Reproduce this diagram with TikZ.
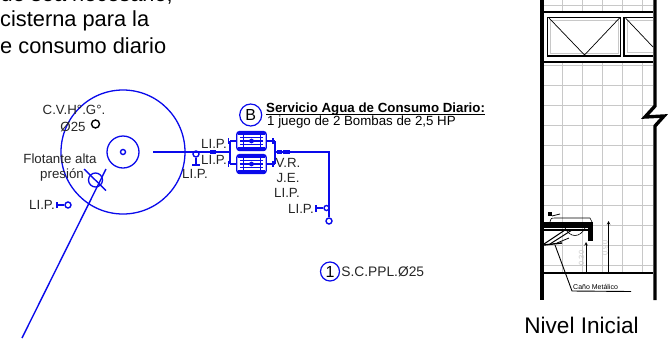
\documentclass[tikz,border=0pt]{standalone}
\usepackage{fontspec}
\setmainfont{Liberation Sans}
\usetikzlibrary{positioning}
\definecolor{azul}{RGB}{10,10,235}
\definecolor{grilla}{RGB}{200,200,200}
\tikzset{
    tanque/.style={circle, draw=azul, line width=1.3pt, inner sep=0pt},
    llave/.style={circle, draw=azul, line width=1.4pt, inner sep=0pt, minimum size=6pt},
    caneria/.style={draw=azul, line width=1.4pt},
    bomba/.style={rectangle, rounded corners=3pt, draw=azul, line width=1.4pt, minimum width=29.5pt, minimum height=19pt, inner sep=0pt},
    etiqueta/.style={inner sep=0pt, font=\fontsize{13.3}{14}\selectfont, text=black!85},
    referencia/.style={circle, draw=azul, line width=1.2pt, inner sep=0pt},
    muro/.style={line width=3.4pt, black},
    marco/.style={line width=1.2pt, black},
    parrafo/.style={inner sep=0pt, font=\fontsize{21.8}{24}\selectfont},
}
\begin{document}
\begin{tikzpicture}[x=1pt, y=-1pt]
\clip (0,0) rectangle (668,338);
%Texto superior
\node[parrafo, anchor=base east] (texto1) at (173,1.5) {ue sea necesario,};
\node[parrafo, anchor=base west] (texto2) at (0,26.7) {cisterna para la};
\node[parrafo, anchor=base west] (texto3) at (0,53) {e consumo diario};

%Cisterna
\node[tanque, minimum size=124pt] (cisterna) at (123,152) {};
\node[tanque, minimum size=32pt] (boca) at (123,152) {};
\node[llave, minimum size=5pt] (centro) at (123,152) {};
\node[llave, minimum size=8pt, draw=black] (cvhg) at (95.5,124) {};
\node[tanque, minimum size=14pt] (flotante) at (95.5,180) {};
\coordinate (flotantea) at (84,169);
\coordinate (flotanteb) at (106,190.5);
\coordinate (flotantec) at (106,169);
\coordinate (flotanted) at (22,338);
\draw[caneria] (flotantea) -- (flotanteb);
\draw[caneria] (flotantec) -- (flotanted);
\node[etiqueta] (cvhgtxt) at (74,110) {C.V.H°.G°.};
\node[etiqueta] (diamtxt) at (73,127) {Ø25};
\node[etiqueta] (flotantetxt) at (60,159) {Flotante alta};
\node[etiqueta] (presiontxt) at (62,175) {presión};
\node[etiqueta] (lip1) at (42,205) {LI.P.};
\node[llave] (lip1v) at (68,205) {};
\coordinate (lip1b) at (57,205);
\draw[caneria] (lip1b) -- (lip1v);
\draw[caneria] ([yshift=-3pt]lip1b) -- ([yshift=3pt]lip1b);

%Impulsion
\coordinate (sale) at (153,152);
\coordinate (tee) at (230,152);
\node[llave] (valv) at (196,154) {};
\coordinate (valvb) at (196,165);
\draw[caneria] (sale) -- (tee);
\draw[caneria] (valv) -- (valvb);
\draw[caneria, line width=1.6pt] (192,165) -- (200,165);
\node[fill=azul, inner sep=0pt, minimum width=6pt, minimum height=3.5pt] (union) at (213,152) {};
\node[etiqueta] (lip2) at (195,174) {LI.P.};
\node[etiqueta] (lip3) at (214,144) {LI.P.};
\node[etiqueta] (lip4) at (214,160) {LI.P.};

%Bombas
\foreach \nombre/\yy in {bomba1/141, bomba2/164}{
    \node[bomba] (\nombre) at (251.5,\yy) {};
    \fill[azul] (238,\yy-9.5) rectangle (265,\yy-6);
    \fill[azul] (238,\yy+6) rectangle (265,\yy+9.5);
    \draw[azul, line width=0.6pt] (240,\yy-3.5) -- (263,\yy-3.5) (240,\yy+3.5) -- (263,\yy+3.5);
    \draw[azul, line width=0.9pt] (243,\yy-6) -- (243,\yy+6) (260,\yy-6) -- (260,\yy+6);
    \fill[azul] (240,\yy-0.6) rectangle (263,\yy+0.6);
    \fill[azul] (251.5,\yy) circle (2.4pt);
    \draw[caneria] (230,\yy) -- (236,\yy);
    \draw[caneria] (267,\yy) -- (275,\yy);
    \fill[azul] (227.5,\yy-3) rectangle (229,\yy+3);
    \fill[azul] (272,\yy-3) rectangle (273.5,\yy+3);
}
\draw[caneria] (230,141) -- (230,164);
\draw[caneria] (275,141) -- (275,164);
\coordinate (colector) at (275,152);
\coordinate (codo) at (329,152);
\node[llave] (fin) at (329,221) {};
\node[llave, minimum size=5pt] (lip5v) at (326.5,208) {};
\coordinate (lip5b) at (316,208);
\draw[caneria] (colector) -- (codo) -- (fin);
\draw[caneria] (lip5b) -- (lip5v);
\draw[caneria, line width=1.7pt] ([yshift=-3.5pt]lip5b) -- ([yshift=3.5pt]lip5b);
\fill[azul] (277,149.5) rectangle (281.5,154);
\fill[azul] (283,149.5) rectangle (289.5,154);
\node[etiqueta] (vr) at (288,163) {V.R.};
\node[etiqueta] (je) at (288,178) {J.E.};
\node[etiqueta] (lip6) at (287,193) {LI.P.};
\node[etiqueta] (lip7) at (301,209) {LI.P.};

%Referencias
\node[referencia, minimum size=22pt, font=\fontsize{16}{16}\selectfont] (refb) at (250.7,115) {B};
\node[inner sep=0pt, anchor=base west, font=\bfseries\fontsize{13.3}{14}\selectfont] (servicio) at (266,112) {Servicio Agua de Consumo Diario:};
\coordinate (raya) at (266,114.5);
\draw[line width=0.7pt] (raya) -- ++(219,0);
\node[inner sep=0pt, anchor=base west, font=\fontsize{13.3}{14}\selectfont] (juego) at (267,125) {1 juego de 2 Bombas de 2,5 HP};
\node[referencia, minimum size=19pt, font=\fontsize{16}{16}\selectfont] (ref1) at (330,271.5) {1};
\node[etiqueta, anchor=west, font=\fontsize{13.8}{14}\selectfont] (scppl) [right=1pt of ref1] {S.C.PPL.Ø25};

%Corte
\foreach \x in {562,582,602,622,642}
    \draw[grilla, line width=1pt] (\x,0) -- (\x,273);
\foreach \y in {5,65,85,...,265}
    \draw[grilla, line width=1pt] (544,\y) -- (653,\y);
\fill[white] (544,12) rectangle (653,62);
\draw[marco] (544,12) -- (653,12);
\draw[marco] (544,62) -- (653,62);
\node[draw=black, line width=1.4pt, inner sep=0pt, minimum width=73pt, minimum height=38.5pt] (ventana1) at (584.2,36.7) {};
\node[draw=grilla, line width=1pt, inner sep=0pt, minimum width=68pt, minimum height=33pt] (vidrio1) at (ventana1) {};
\draw[line width=0.7pt] (549,18) -- (584.5,55) -- (619.5,18);
\draw[black, line width=1.4pt] (653,17.5) -- (624,17.5) -- (624,56) -- (653,56);
\draw[grilla, line width=1pt] (653,20) -- (627,20) -- (627,52) -- (653,52);
\draw[line width=0.7pt] (625.5,18) -- (653,47);
\coordinate (muroa) at (542,0);
\coordinate (murob) at (542,300);
\coordinate (muroc) at (655,0);
\coordinate (murod) at (655,300);
\draw[muro] (muroa) -- (murob);
\draw[muro] (muroc) -- (655,106) -- (645,117) -- (664,116) -- (655,126) -- (murod);
\draw[line width=1.4pt] (544,273) -- (653,273);

%Lavatorio
\fill[black] (544,222) rectangle (593,227.5);
\fill[black] (588,222) rectangle (593,241);
\draw[line width=0.6pt] (550,222) .. controls (551,218) .. (556,218) -- (590,218) -- (592,222);
\draw[line width=0.6pt] (565,228) .. controls (570,238) and (580,238) .. (585,228);
\draw[line width=1.1pt] (544,230) -- (588,230);
\fill[black] (547.5,212) rectangle (552,216);
\draw[line width=0.8pt] (552,216) -- (560,214);
\draw[line width=1pt] (544,244) -- (565,230) (550,244) -- (572,230);
\draw[line width=1.4pt] (544,245) -- (562,243);
\draw[line width=0.8pt] (557,243) -- (569,238);
\coordinate (canoa) at (555,245);
\coordinate (canob) at (572,291);
\coordinate (canoc) at (631,291.5);
\draw[line width=0.9pt] (canoa) -- (canob) -- (canoc);
\node[inner sep=0pt, anchor=base west, font=\fontsize{7}{8}\selectfont] (cano) at (573,289) {Caño  Metálico};

%Cotas
\coordinate (cota1a) at (586,272);
\coordinate (cota1b) at (586,242);
\coordinate (cota2a) at (608.5,272);
\coordinate (cota2b) at (608.5,221);
\draw[line width=0.6pt, -stealth] (cota1a) -- (cota1b);
\draw[line width=0.6pt, -stealth] (cota2a) -- (cota2b);
\node[rotate=90, inner sep=0pt, text=grilla, font=\fontsize{7.5}{8}\selectfont] (cota1) at (581.5,258) {0.30};
\node[rotate=90, inner sep=0pt, text=grilla, font=\fontsize{7.5}{8}\selectfont] (cota2) at (605,248) {0.90};
\node[inner sep=0pt, font=\fontsize{22.6}{24}\selectfont] (nivel) at (581.5,325) {Nivel Inicial};
\end{tikzpicture}
\end{document}
